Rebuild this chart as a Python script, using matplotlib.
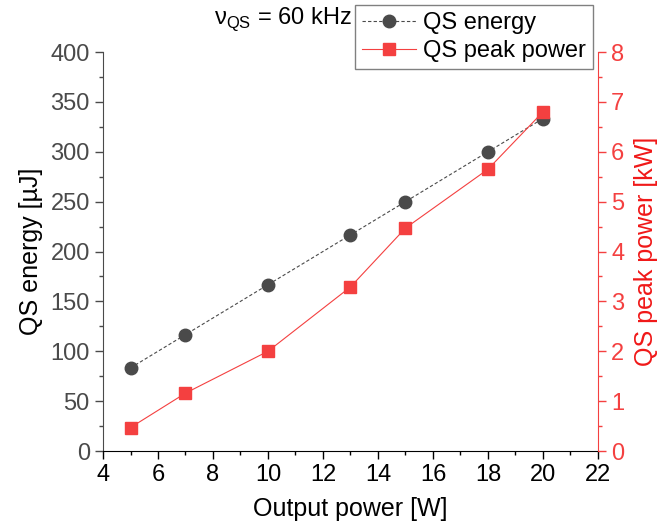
import matplotlib
matplotlib.use("Agg")
import matplotlib.pyplot as plt
from matplotlib.ticker import MultipleLocator

plt.rcParams['font.family'] = ['Liberation Sans', 'DejaVu Sans']
plt.rcParams['mathtext.fontset'] = 'custom'
plt.rcParams['mathtext.rm'] = 'Liberation Sans'

output_power = [5, 7, 10, 13, 15, 18, 20]
qs_energy = [83.3, 116.7, 166.7, 216.7, 250.0, 300.0, 333.3]
qs_peak_power = [0.47, 1.16, 2.0, 3.29, 4.47, 5.65, 6.8]

gray = '#4a4a4a'
red = '#f44040'
label_red = '#f01818'

fig = plt.figure(figsize=(6.59, 5.27), dpi=100)
ax = fig.add_axes([0.1563, 0.1442, 0.9074 - 0.1563, 0.9013 - 0.1442])
ax2 = ax.twinx()

l1, = ax.plot(output_power, qs_energy, linestyle=(0, (3, 2)), color=gray, lw=0.8,
              marker='o', markersize=9, markerfacecolor=gray, markeredgecolor=gray,
              label='QS energy', zorder=3)
l2, = ax2.plot(output_power, qs_peak_power, linestyle='-', color=red, lw=0.8,
               marker='s', markersize=8.3, markerfacecolor=red, markeredgecolor=red,
               label='QS peak power', zorder=4)

ax.set_xlim(4, 22)
ax.set_ylim(0, 400)
ax2.set_ylim(0, 8)

ax.xaxis.set_major_locator(MultipleLocator(2))
ax.xaxis.set_minor_locator(MultipleLocator(1))
ax.yaxis.set_major_locator(MultipleLocator(50))
ax.yaxis.set_minor_locator(MultipleLocator(25))
ax2.yaxis.set_major_locator(MultipleLocator(1))
ax2.yaxis.set_minor_locator(MultipleLocator(0.5))

for a in (ax, ax2):
    a.spines['top'].set_visible(False)

ax.spines['left'].set_color(gray)
ax.spines['bottom'].set_color('black')
ax.spines['right'].set_visible(False)
ax2.spines['left'].set_visible(False)
ax2.spines['bottom'].set_visible(False)
ax2.spines['right'].set_color(red)

ax.tick_params(axis='x', which='both', direction='out', colors='black', labelsize=17)
ax.tick_params(axis='x', which='major', length=6, width=1)
ax.tick_params(axis='x', which='minor', length=3, width=1)
ax.tick_params(axis='y', which='both', direction='out', colors=gray, labelsize=17)
ax.tick_params(axis='y', which='major', length=6, width=1)
ax.tick_params(axis='y', which='minor', length=3, width=1)
ax2.tick_params(axis='y', which='both', direction='out', colors=red, labelsize=17)
ax2.tick_params(axis='y', which='major', length=6, width=1)
ax2.tick_params(axis='y', which='minor', length=3, width=1)

ax.set_xlabel('Output power [W]', fontsize=18, color='black', labelpad=8)
ax.set_ylabel('QS energy [µJ]', fontsize=18, color='black', labelpad=5)
ax2.set_ylabel('QS peak power [kW]', fontsize=18, color=label_red, labelpad=7)

fig.text(0.429, 0.964, r'ν$_{\mathregular{QS}}$ = 60 kHz', fontsize=17,
         ha='center', va='center', color='black')

leg = ax2.legend(handles=[l1, l2], loc='upper right', bbox_to_anchor=(0.99, 1.118),
                 fontsize=17, frameon=True, fancybox=False, framealpha=1,
                 edgecolor='#808080', handlelength=2.3, handletextpad=0.3,
                 borderpad=0.3, labelspacing=0.25, borderaxespad=0)
leg.get_frame().set_linewidth(1)

fig.savefig('out.png', dpi=100)
